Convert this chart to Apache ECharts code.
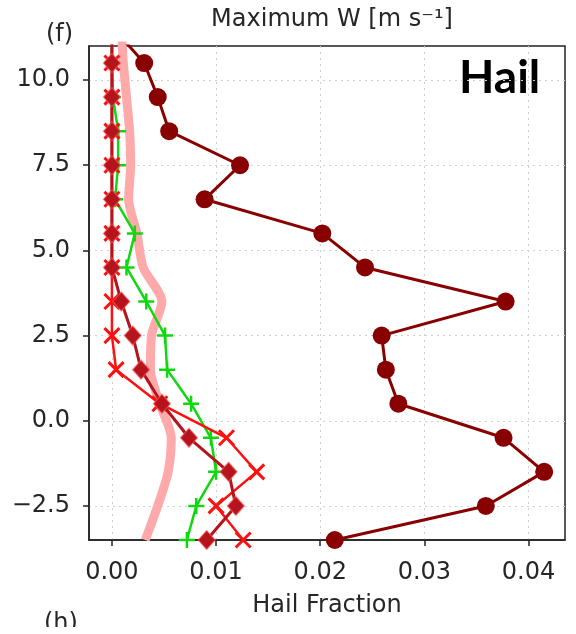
<!DOCTYPE html>
<html><head><meta charset="utf-8">
<script src="https://cdn.jsdelivr.net/npm/echarts@6/dist/echarts.min.js"></script>
<style>html,body{margin:0;padding:0;background:#fff}#c{width:576px;height:634px}</style>
</head><body><div id="c"></div>
<script>
// height levels (y values) for every profile
const levels = [11.5, 10.5, 9.5, 8.5, 7.5, 6.5, 5.5, 4.5, 3.5, 2.5, 1.5, 0.5, -0.5, -1.5, -2.5, -3.5];
// dark red, circles
const darkCircle = [0.0002, 0.0031, 0.0044, 0.0055, 0.0123, 0.0089, 0.0202, 0.0243, 0.0378, 0.0259, 0.0263, 0.0275, 0.0376, 0.0415, 0.0359, 0.0214];
// crimson, diamonds
const crimsonDiamond = [0, 0, 0, 0, 0, 0, 0, 0, 0.0009, 0.0020, 0.0028, 0.0048, 0.0074, 0.0112, 0.0119, 0.0091];
// red, x markers
const redX = [0, 0, 0, 0, 0, 0, 0, 0, 0, 0, 0.0004, 0.0046, 0.0110, 0.0139, 0.0100, 0.0126];
// green, plus markers
const greenPlus = [0, 0, 0.0001, 0.0006, 0.0006, 0.0003, 0.0022, 0.0014, 0.0033, 0.0051, 0.0053, 0.0076, 0.0095, 0.0100, 0.0081, 0.0072];
// light pink thick line
const pinkLine = [0.0009, 0.0011, 0.0014, 0.0017, 0.0018, 0.0016, 0.0024, 0.0030, 0.0048, 0.0038, 0.0037, 0.0046, 0.0057, 0.0054, 0.0044, 0.0032];

const xTicks = [0, 0.01, 0.02, 0.03, 0.04];
const yTicks = [-2.5, 0, 2.5, 5, 7.5, 10];

const chart = echarts.init(document.getElementById('c'), null, {renderer: 'canvas'});
const pairs = v => v.map((x, i) => [x, levels[i]]);
const font = 'DejaVu Sans';
const txt = '#262626';
const X_PATH = 'path://M0,0L10,10M10,0L0,10';
const PLUS_PATH = 'path://M5,0L5,10M0,5L10,5';

const option = {
  animation: false,
  grid: {left: 89, top: 46, right: 11, bottom: 94, show: true, borderColor: '#222', borderWidth: 1.5, backgroundColor: 'transparent'},
  xAxis: {
    type: 'value', min: -0.0022, max: 0.0435,
    axisLine: {show: true, onZero: false, lineStyle: {color: '#222', width: 1.5}},
    axisTick: {show: true, length: 6, customValues: xTicks, lineStyle: {color: '#222', width: 1.5}},
    axisLabel: {customValues: xTicks, formatter: v => v.toFixed(2), margin: 21, fontFamily: font, fontSize: 24, color: txt},
    splitLine: {show: true, lineStyle: {type: [2, 4], color: '#cfcfcf', width: 1}}
  },
  yAxis: {
    type: 'value', min: -3.5, max: 11,
    axisLine: {show: true, onZero: false, lineStyle: {color: '#222', width: 1.5}},
    axisTick: {show: true, length: 6, customValues: yTicks, lineStyle: {color: '#222', width: 1.5}},
    axisLabel: {customValues: yTicks, formatter: v => v.toFixed(1).replace('-', '\u2212'), margin: 19, fontFamily: font, fontSize: 24, color: txt},
    splitLine: {show: true, lineStyle: {type: [2, 4], color: '#cfcfcf', width: 1}}
  },
  series: [
    {type: 'line', data: pairs(pinkLine), showSymbol: false, symbol: 'none', smooth: 0.25,
     lineStyle: {color: '#ffaaaa', width: 9}, z: 1},
    {type: 'line', data: pairs(greenPlus), symbol: PLUS_PATH, symbolSize: 16,
     itemStyle: {color: '#10d810', borderColor: '#10d810', borderWidth: 2.5},
     lineStyle: {color: '#10d810', width: 2.5}, z: 2},
    {type: 'line', data: pairs(redX), symbol: X_PATH, symbolSize: 15,
     itemStyle: {color: '#ff1010', borderColor: '#ff1010', borderWidth: 3},
     lineStyle: {color: '#ff1010', width: 2.5}, z: 3},
    {type: 'line', data: pairs(crimsonDiamond), symbol: 'diamond', symbolSize: [17, 19],
     itemStyle: {color: '#b5141c', borderColor: 'rgba(255,90,90,0.5)', borderWidth: 1.5},
     lineStyle: {color: '#b5141c', width: 3}, z: 4},
    {type: 'line', data: pairs(darkCircle), symbol: 'circle', symbolSize: 18,
     itemStyle: {color: '#880000'},
     lineStyle: {color: '#880000', width: 3}, z: 5}
  ],
  graphic: [
    {type: 'text', x: 332, y: 8, style: {text: 'Maximum W [m s\u207B\u00B9]', font: '24px "DejaVu Sans"', fill: txt, textAlign: 'center'}},
    {type: 'text', x: 46, y: 23, style: {text: '(f)', font: '24px "DejaVu Sans"', fill: txt}},
    {type: 'text', x: 44, y: 612, style: {text: '(h)', font: '24px "DejaVu Sans"', fill: txt}},
    {type: 'rect', shape: {x: 0, y: 627, width: 576, height: 7}, style: {fill: '#fff'}, z: 100},
    {type: 'text', x: 327, y: 594, style: {text: 'Hail Fraction', font: '24px "DejaVu Sans"', fill: txt, textAlign: 'center'}},
    {type: 'text', x: 459, y: 55, style: {text: 'Hail', font: 'bold 46px Lato', fill: '#000'}}
  ]
};
chart.setOption(option);
</script>
</body></html>
